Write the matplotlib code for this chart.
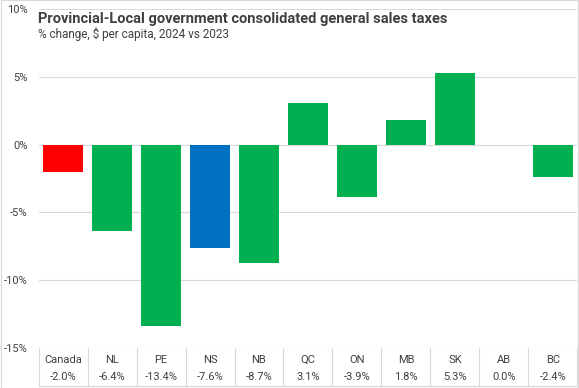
import matplotlib.pyplot as plt

plt.rcParams['font.family'] = ['Roboto', 'DejaVu Sans']

regions = ['Canada', 'NL', 'PE', 'NS', 'NB', 'QC', 'ON', 'MB', 'SK', 'AB', 'BC']
change = [-2.0, -6.4, -13.4, -7.6, -8.7, 3.1, -3.9, 1.8, 5.3, 0.0, -2.4]
yticks = [-15, -10, -5, 0, 5, 10]

colors = []
for r in regions:
    if r == 'Canada':
        colors.append('#FF0000')
    elif r == 'NS':
        colors.append('#0070C0')
    else:
        colors.append('#00B050')

fig = plt.figure(figsize=(5.79, 3.88), dpi=100)
ax = fig.add_axes([0.0665, 0.1031, 0.9309, 0.8737])

x = list(range(len(regions)))
ax.bar(x, change, width=0.83, color=colors, zorder=2)

ax.set_xlim(-0.5, len(regions) - 0.5)
ax.set_ylim(-15, 10)
ax.set_yticks(yticks)
ax.set_yticklabels([f'{v}%' for v in yticks], fontsize=8, color='#404040')
ax.tick_params(axis='y', length=0, pad=8)
ax.set_xticks([])
ax.grid(axis='y', color='#D9D9D9', linewidth=0.8, zorder=0)
for s in ax.spines.values():
    s.set_visible(False)

# table under the axis
trans = ax.get_xaxis_transform()
bottom = -0.112
for b in [i - 0.5 for i in range(len(regions) + 1)]:
    ax.plot([b, b], [0, bottom], transform=trans, color='#D9D9D9',
            linewidth=0.8, clip_on=False)
ax.plot([-0.5, len(regions) - 0.5], [bottom, bottom], transform=trans,
        color='#D9D9D9', linewidth=0.8, clip_on=False)
for i, (r, v) in enumerate(zip(regions, change)):
    ax.text(i, -0.035, r, transform=trans, ha='center', va='center',
            fontsize=8, color='#404040')
    ax.text(i, -0.085, f'{v:.1f}%', transform=trans, ha='center', va='center',
            fontsize=8, color='#404040')

fig.text(0.066, 0.950, 'Provincial-Local government consolidated general sales taxes',
         fontsize=10.5, fontweight='bold', color='#404040', va='center')
fig.text(0.066, 0.912, '% change, $ per capita, 2024 vs 2023',
         fontsize=8.5, color='#404040', va='center')

# outer border
fig.patches.append(plt.Rectangle((0.001, 0.001), 0.998, 0.998, fill=False,
                                 edgecolor='#D9D9D9', linewidth=0.8,
                                 transform=fig.transFigure))

fig.savefig('out.png', dpi=100)
